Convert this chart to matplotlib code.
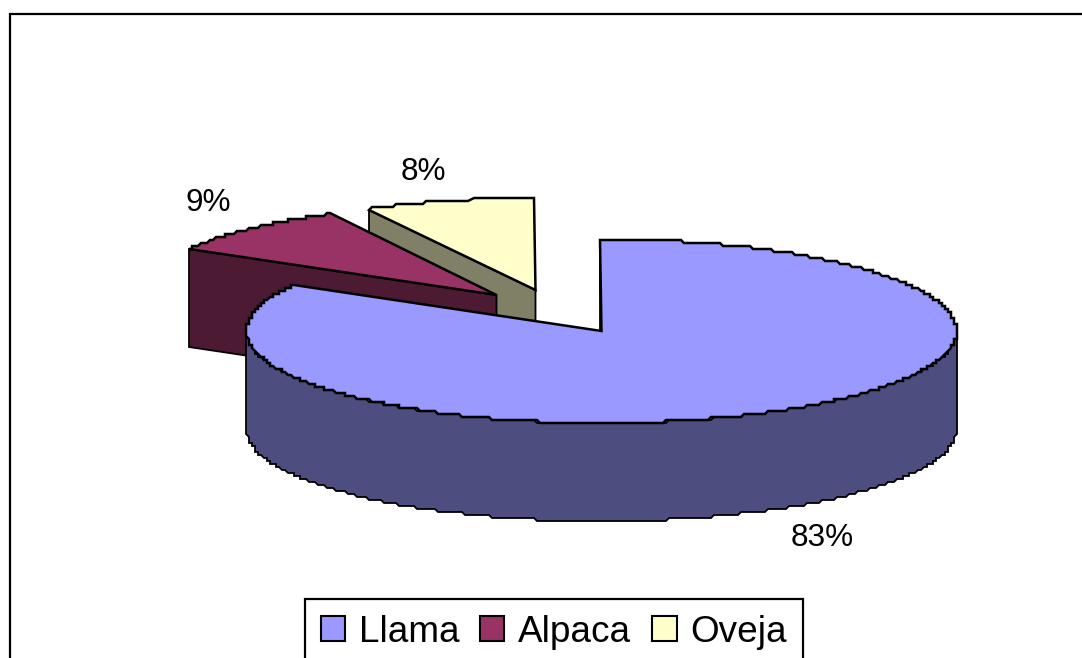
import numpy as np
import matplotlib
matplotlib.use('Agg')
import matplotlib.pyplot as plt
from matplotlib.patches import Patch, Polygon, Rectangle

plt.rcParams['font.family'] = ['Liberation Sans', 'DejaVu Sans']

categories = ['Llama', 'Alpaca', 'Oveja']
values = [83.4, 8.8, 7.8]
top_colors = ['#9999FF', '#993366', '#FFFFCC']
side_colors = ['#4D4D80', '#4D1A33', '#808066']

# geometria del pastel en pixeles de la figura
cx, cy = 601.5, 331
rx, ry = 355, 92
depth = 98
explode = [(0, 0), (-105, -36), (-66, -41)]
label_pos = [(822, 538), (208, 203), (423, 172)]


def arc(x0, y0, a1, a2):
    # angulos en grados, desde las 12 en sentido horario
    n = max(int(abs(a2 - a1) * 2), 2)
    t = np.radians(np.linspace(a1, a2, n))
    x = x0 + rx * np.sin(t)
    y = y0 - ry * np.cos(t)
    # el original tiene el borde escalonado
    return np.column_stack([np.round(x / 3) * 3, np.round(y / 3) * 3])


fig = plt.figure(figsize=(10.82, 6.58), dpi=100)
ax = fig.add_axes([0, 0, 1, 1])
ax.set_xlim(0, 1082)
ax.set_ylim(658, 0)
ax.axis('off')

ax.add_patch(Rectangle((10, 14), 1200, 800, fc='white', ec='black', lw=1.6, zorder=0))

angles = np.cumsum([0] + values) * 3.6
lw = 1.3

# se dibuja de atras hacia adelante
for i in [2, 1, 0]:
    a1, a2 = angles[i], angles[i + 1]
    x0 = cx + explode[i][0]
    y0 = cy + explode[i][1]
    z = 3 - i
    pts = arc(x0, y0, a1, a2)
    ax.add_patch(Polygon(pts_face := np.array([[x0, y0], pts[0], pts[0] + [0, depth], [x0, y0 + depth]]),
                         fc=side_colors[i], ec='black', lw=lw, zorder=z))
    if i == 0:
        # pared exterior, solo la mitad de adelante
        rim = arc(x0, y0, 90, 270)
        wall = np.vstack([rim, (rim + [0, depth])[::-1]])
        ax.add_patch(Polygon(wall, fc=side_colors[i], ec='black', lw=lw, zorder=z))
    ax.add_patch(Polygon(np.vstack([[x0, y0], pts]), fc=top_colors[i], ec='black', lw=lw + 0.5,
                         joinstyle='miter', zorder=z))
    ax.text(label_pos[i][0], label_pos[i][1], f'{values[i]:.0f}%', fontsize=22.7,
            ha='center', va='center', color='black', zorder=5)

handles = [Patch(fc=c, ec='black', lw=1.5) for c in top_colors]
leg = ax.legend(handles, categories, ncol=3, loc='upper left', bbox_to_anchor=(305, 599),
                bbox_transform=ax.transData, fontsize=26.6, fancybox=False, framealpha=1,
                edgecolor='black', borderpad=0.42, handlelength=0.65, handleheight=0.65,
                handletextpad=0.38, columnspacing=0.57, borderaxespad=0)
leg.get_frame().set_linewidth(1.6)
leg.set_zorder(6)

fig.savefig('out.png', dpi=100)
